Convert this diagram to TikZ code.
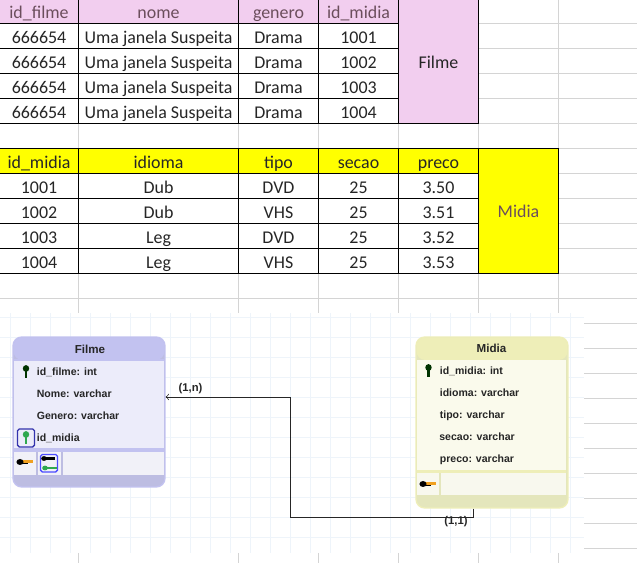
\documentclass[tikz,border=0pt]{standalone}
\usepackage{fontspec}
\setmainfont{Carlito}
\newfontfamily\erfont{Liberation Sans}[BoldFont={Liberation Sans Bold}]
\usetikzlibrary{calc,positioning,arrows}

\definecolor{cellpink}{HTML}{F2CEEF}
\definecolor{cellyellow}{HTML}{FFFF00}
\definecolor{midiatext}{HTML}{6B4E5C}
\definecolor{gridgray}{HTML}{D4D4D4}
\definecolor{canvasline}{HTML}{EEF4FA}
\definecolor{filmehead}{HTML}{C2C2F0}
\definecolor{filmebody}{HTML}{ECECFA}
\definecolor{filmecell}{HTML}{F1F1F8}
\definecolor{filmefoot}{HTML}{BDBDE2}
\definecolor{midiahead}{HTML}{EEEEB8}
\definecolor{midiabody}{HTML}{FAFAEC}
\definecolor{midiacell}{HTML}{F8F8EE}
\definecolor{midiafoot}{HTML}{E4E6BC}
\definecolor{keygreen}{HTML}{2FA84F}
\definecolor{keyorange}{HTML}{F0A020}

\tikzset{
  cell/.style={inner sep=0pt,text height=6.5pt,text depth=2pt,font=\fontsize{10.2}{12}\selectfont,text=black!85},
  field/.style={anchor=west,inner sep=0pt,text height=4.5pt,text depth=1.5pt,font=\erfont\bfseries\fontsize{6}{7}\selectfont,text=black!85},
  title/.style={inner sep=0pt,text height=5pt,text depth=0pt,font=\erfont\bfseries\fontsize{6.6}{8}\selectfont,text=black!85},
  card/.style={inner sep=0pt,font=\erfont\bfseries\fontsize{6.4}{8}\selectfont,text=black!85},
  pics/keyv/.style={code={
    \fill[#1] (0,-3.5) ellipse[x radius=3.2,y radius=3.4];
    \draw[#1,line width=1.3pt] (0,-3) -- (0,6.5);
  }},
  pics/keyh/.style 2 args={code={
    \draw[#2,line width=1.6pt] (-3,-.5) -- (10,-.5);
    \fill[#1] (-3,0) ellipse[x radius=3.6,y radius=3];
    \draw[#1,line width=.7pt] (-3,1.4) -- (5,1.4);
  }},
  pics/keysmall/.style={code={
    \fill[#1] (-5,0) ellipse[x radius=2.8,y radius=2.4];
    \draw[#1,line width=1.2pt] (-5,0) -- (6.5,0);
  }},
}

\begin{document}
\begin{tikzpicture}[x=.02cm,y=-.02cm]
\useasboundingbox (0,0) rectangle (637,563);

%sheet grid
\foreach \y in {23.5,48.5,...,298.5} \draw[gridgray,thin] (0,\y) -- (637,\y);
\foreach \x in {78.5,238.5,318.5,398.5,478.5,558.5} \draw[gridgray,thin] (\x,0) -- (\x,313);

%table filme
\fill[cellpink] (0,0) rectangle (398.5,23.5);
\fill[cellpink] (398.5,0) rectangle (478.5,123.5);
\fill[white] (0,23.5) rectangle (398.5,123.5);
\foreach \y in {23.5,48.5,73.5,98.5} \draw[thin] (0,\y) -- (398.5,\y);
\draw[thin] (0,123.5) -- (478.5,123.5);
\foreach \x in {78.5,238.5,318.5,398.5,478.5} \draw[thin] (\x,0) -- (\x,123.5);

\node[cell,text=midiatext] (fid) at (39,14.3) {id\_filme};
\node[cell,text=midiatext] (fnome) at (158.5,14.3) {nome};
\node[cell,text=midiatext] (fgenero) at (278.5,14.3) {genero};
\node[cell,text=midiatext] (fmidia) at (358.5,14.3) {id\_midia};
\node[cell] (ftitle) at (438.5,64.3) {Filme};
\foreach \y/\m in {39.3/1001,64.3/1002,89.3/1003,114.3/1004}{
  \node[cell] (fid\m) at (39,\y) {666654};
  \node[cell] (fnome\m) at (158.5,\y) {Uma janela Suspeita};
  \node[cell] (fgenero\m) at (278.5,\y) {Drama};
  \node[cell] (fmidia\m) at (358.5,\y) {\m};
}

%table midia
\fill[cellyellow] (0,148.5) rectangle (478.5,173.5);
\fill[cellyellow] (478.5,148.5) rectangle (558.5,273.5);
\fill[white] (0,173.5) rectangle (478.5,273.5);
\draw[thin] (0,148.5) -- (558.5,148.5);
\foreach \y in {173.5,198.5,223.5,248.5} \draw[thin] (0,\y) -- (478.5,\y);
\draw[thin] (0,273.5) -- (558.5,273.5);
\foreach \x in {78.5,238.5,318.5,398.5,478.5,558.5} \draw[thin] (\x,148.5) -- (\x,273.5);

\node[cell] (mid) at (39,164.3) {id\_midia};
\node[cell] (midioma) at (158.5,164.3) {idioma};
\node[cell] (mtipo) at (278.5,164.3) {tipo};
\node[cell] (msecao) at (358.5,164.3) {secao};
\node[cell] (mpreco) at (438.5,164.3) {preco};
\node[cell,text=midiatext] (mtitle) at (518.5,213.5) {Midia};
\foreach \y/\m/\i/\t/\p in {189.3/1001/Dub/DVD/3.50,214.3/1002/Dub/VHS/3.51,239.3/1003/Leg/DVD/3.52,264.3/1004/Leg/VHS/3.53}{
  \node[cell] (mid\m) at (39,\y) {\m};
  \node[cell] (midioma\m) at (158.5,\y) {\i};
  \node[cell] (mtipo\m) at (278.5,\y) {\t};
  \node[cell] (msecao\m) at (358.5,\y) {25};
  \node[cell] (mpreco\m) at (438.5,\y) {\p};
}

%er canvas
\fill[white] (0,313) rectangle (584,553);
\foreach \y in {317,337,...,537} \draw[canvasline,thin] (0,\y) -- (584,\y);
\foreach \x in {10,30,...,570} \draw[canvasline,thin] (\x,313) -- (\x,553);
\foreach \y in {323,348,...,548} \draw[gridgray,thin] (584,\y) -- (637,\y);
\foreach \x in {78.5,238.5,318.5,398.5,478.5,558.5} \draw[gridgray,thin] (\x,553) -- (\x,563);

%entity filme
\node[draw=filmehead,thick,fill=filmefoot,rounded corners=5pt,minimum width=3.04cm,minimum height=3cm,inner sep=0pt] (filme) at (89,412) {};
\fill[filmehead,rounded corners=5pt] (13.5,360) -- (13.5,337.5) -- (164.5,337.5) -- (164.5,360) -- cycle;
\fill[filmebody] (14,360) rectangle (164,448);
\draw[filmehead,thick] (14,360) -- (164,360);
\fill[filmehead] (14,448) rectangle (164,452);
\fill[filmecell] (14,452) rectangle (36,475);
\fill[filmecell] (38,452) rectangle (61,475);
\fill[filmecell] (63,452) rectangle (164,475);
\node[title] (filmename) at (90,349) {Filme};
\node[field] (filmeid) at (36.5,372.4) {id\_filme: int};
\node[field] (filmenome) at (36.5,394.7) {Nome: varchar};
\node[field] (filmegenero) at (36.5,416.4) {Genero: varchar};
\node[field] (filmemidia) at (36.5,439) {id\_midia};
\pic at (26,372) {keyv={black!80!green}};
\draw[blue!60!black!80,rounded corners=1pt,thick] (17.5,429) rectangle (34.5,447);
\pic at (26,438) {keyv={keygreen}};
\pic at (23,462) {keyh={black}{keyorange}};
\draw[blue!70,rounded corners=1pt,thick] (40.5,454.5) rectangle (57.5,472);
\pic at (49,458.5) {keysmall={black}};
\pic at (50,468) {keysmall={keygreen}};

%entity midia
\node[draw=midiahead,thick,fill=midiafoot,rounded corners=5pt,minimum width=3.04cm,minimum height=3.42cm,inner sep=0pt] (midia) at (492,422.5) {};
\fill[midiahead,rounded corners=5pt] (416.5,360) -- (416.5,337.5) -- (567.5,337.5) -- (567.5,360) -- cycle;
\fill[midiabody] (417,360) rectangle (566,470);
\fill[midiahead] (417,470) rectangle (566,473);
\fill[midiacell] (417,473) rectangle (439,495);
\fill[midiacell] (441,473) rectangle (566,495);
\node[title] (midianame) at (491.5,348.3) {Midia};
\node[field] (midiaid) at (439.5,371.4) {id\_midia: int};
\node[field] (midiaidioma) at (439.5,394) {idioma: varchar};
\node[field] (midiatipo) at (439.5,415.7) {tipo: varchar};
\node[field] (midiasecao) at (439,438) {secao: varchar};
\node[field] (midiapreco) at (439.5,459.7) {preco: varchar};
\pic at (428.5,371) {keyv={black!80!green}};
\pic at (426,484) {keyh={black}{keyorange}};

%relation
\coordinate (bend) at (290,517);
\draw[-to,black!85] ($(midia.south)+(-18.5,0)$) |- (bend) |- ($(filme.east)+(0,-15)$);
\node[card] (cardfilme) at (190.5,389) {(1,n)};
\node[card] (cardmidia) at (456,521.5) {(1,1)};

\end{tikzpicture}
\end{document}
